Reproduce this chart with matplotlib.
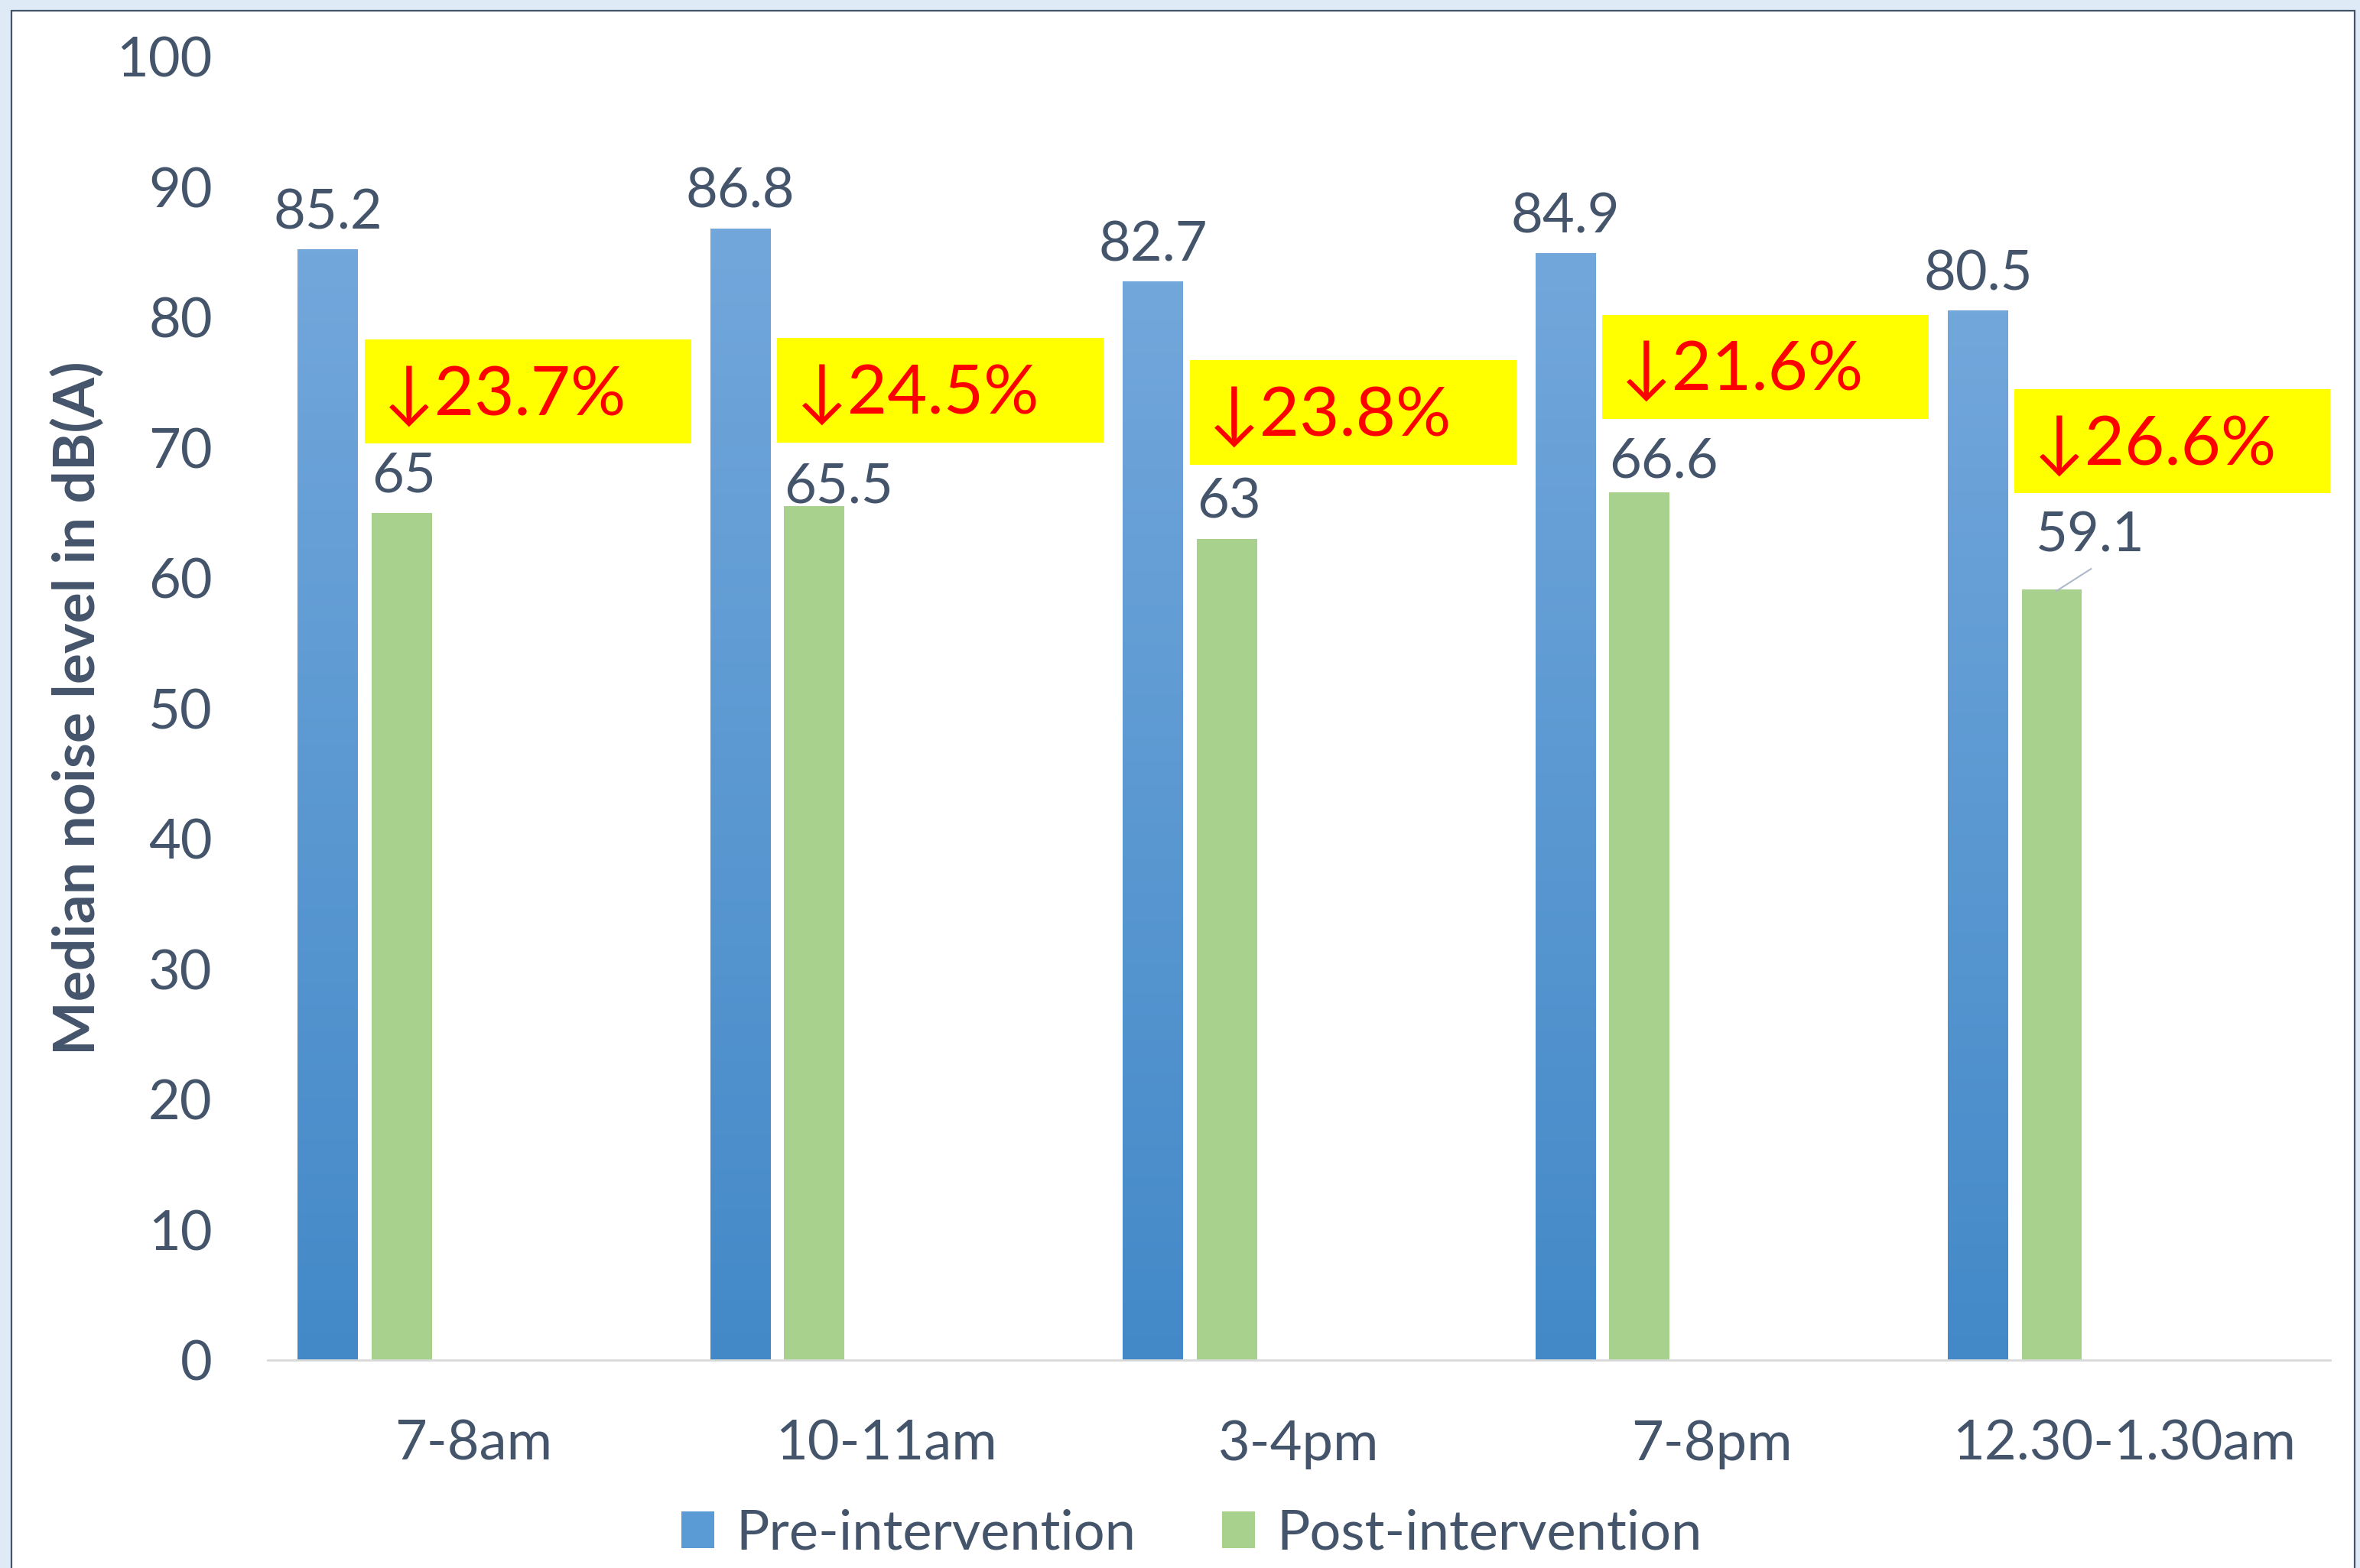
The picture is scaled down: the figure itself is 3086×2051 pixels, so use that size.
import numpy as np
import matplotlib
matplotlib.use("Agg")
import matplotlib.pyplot as plt
from matplotlib.patches import Rectangle, Patch
from matplotlib.colors import LinearSegmentedColormap

plt.rcParams['font.family'] = ['Lato', 'DejaVu Sans']

# ---- data ----
time_slots = ['7-8am', '10-11am', '3-4pm', '7-8pm', '12.30-1.30am']
pre_values = [85.2, 86.8, 82.7, 84.9, 80.5]
post_values = [65, 65.5, 63, 66.6, 59.1]
drop_labels = ['23.7%', '24.5%', '23.8%', '21.6%', '26.6%']
series_names = ['Pre-intervention', 'Post-intervention']

# ---- style ----
TXT = '#44546A'
BLUE_TOP = '#72A7DB'
BLUE_BOT = '#4389C8'
GREEN = '#A9D18E'
bar_w = 0.146
pre_off = -0.354
post_off = -0.175
post_lbl_dy = [2.8, 1.5, 2.8, 2.3, 4.1]
box_bottom = [70.3, 70.4, 68.7, 72.2, 66.5]
box_h = 8.0
box_w = 0.792
box_dx = -0.265

fig = plt.figure(figsize=(30.86, 20.51), dpi=100)
fig.patch.set_facecolor('#DEEAF6')
frame = Rectangle((15 / 3086, -0.01), (3079 - 15) / 3086, 1.01 - 14 / 2051,
                  transform=fig.transFigure, facecolor='white',
                  edgecolor=TXT, linewidth=1.6, zorder=0)
fig.add_artist(frame)

ax = fig.add_axes([0.1134, 0.1326, 0.874, 0.8313])
ax.set_facecolor('none')

x = np.arange(len(time_slots))
cmap = LinearSegmentedColormap.from_list('bl', [BLUE_BOT, BLUE_TOP])
grad = np.linspace(0, 1, 256).reshape(-1, 1)

pre_bars = ax.bar(x + pre_off, pre_values, bar_w, color='none', zorder=2)
for b in pre_bars:
    x0 = b.get_x()
    ax.imshow(grad, cmap=cmap, origin='lower', aspect='auto',
              extent=(x0, x0 + b.get_width(), 0, b.get_height()), zorder=2)
post_bars = ax.bar(x + post_off, post_values, bar_w, color=GREEN, zorder=2)

ax.set_xlim(-0.5, len(time_slots) - 0.5)
ax.set_ylim(0, 100)
ax.set_yticks(np.arange(0, 101, 10))
ax.set_xticks(x)
ax.set_xticklabels(time_slots)
ax.tick_params(axis='y', length=0, pad=52, labelsize=52, labelcolor=TXT)
ax.tick_params(axis='x', length=0, pad=56, labelsize=52, labelcolor=TXT)
for s in ['top', 'right', 'left']:
    ax.spines[s].set_visible(False)
ax.spines['bottom'].set_color('#D9D9D9')
ax.spines['bottom'].set_linewidth(2)

ax.set_ylabel('Median noise level in dB(A)', fontsize=54, fontweight='bold',
              color=TXT)
ax.yaxis.set_label_coords(-0.079, 0.5)

# value labels
for i, v in enumerate(pre_values):
    ax.text(x[i] + pre_off, v + 2.8, f'{v:g}', ha='center', va='center',
            fontsize=52, color=TXT, zorder=4)
for i, v in enumerate(post_values):
    lx = x[i] + post_off - bar_w / 2
    if i == 4:
        lx = x[i] - 0.215
        ax.plot([x[i] - 0.164, x[i] - 0.08], [59.0, 60.7], color='#ADB9CA',
                lw=1.5, zorder=3)
    ax.text(lx, v + post_lbl_dy[i], f'{v:g}', ha='left', va='center',
            fontsize=52, color=TXT, zorder=4)

# percentage drop boxes
for i, lab in enumerate(drop_labels):
    bx = x[i] + box_dx
    ax.add_patch(Rectangle((bx, box_bottom[i]), box_w, box_h,
                           facecolor='#FFFF00', edgecolor='none', zorder=3))
    ax.text(bx + 0.045, box_bottom[i] + box_h / 2 - 0.3, '\u2193' + lab,
            ha='left', va='center', fontsize=65, color='#FF0000', zorder=4)

handles = [Patch(facecolor='#5B9BD5', edgecolor='none'),
           Patch(facecolor=GREEN, edgecolor='none')]
leg = fig.legend(handles, series_names, loc='center', bbox_to_anchor=(0.505, 0.022),
                 ncol=2, frameon=False, fontsize=52, handlelength=0.6,
                 handleheight=0.64, handletextpad=0.39, columnspacing=1.56)
for t in leg.get_texts():
    t.set_color(TXT)

fig.savefig('out.png', dpi=100)
